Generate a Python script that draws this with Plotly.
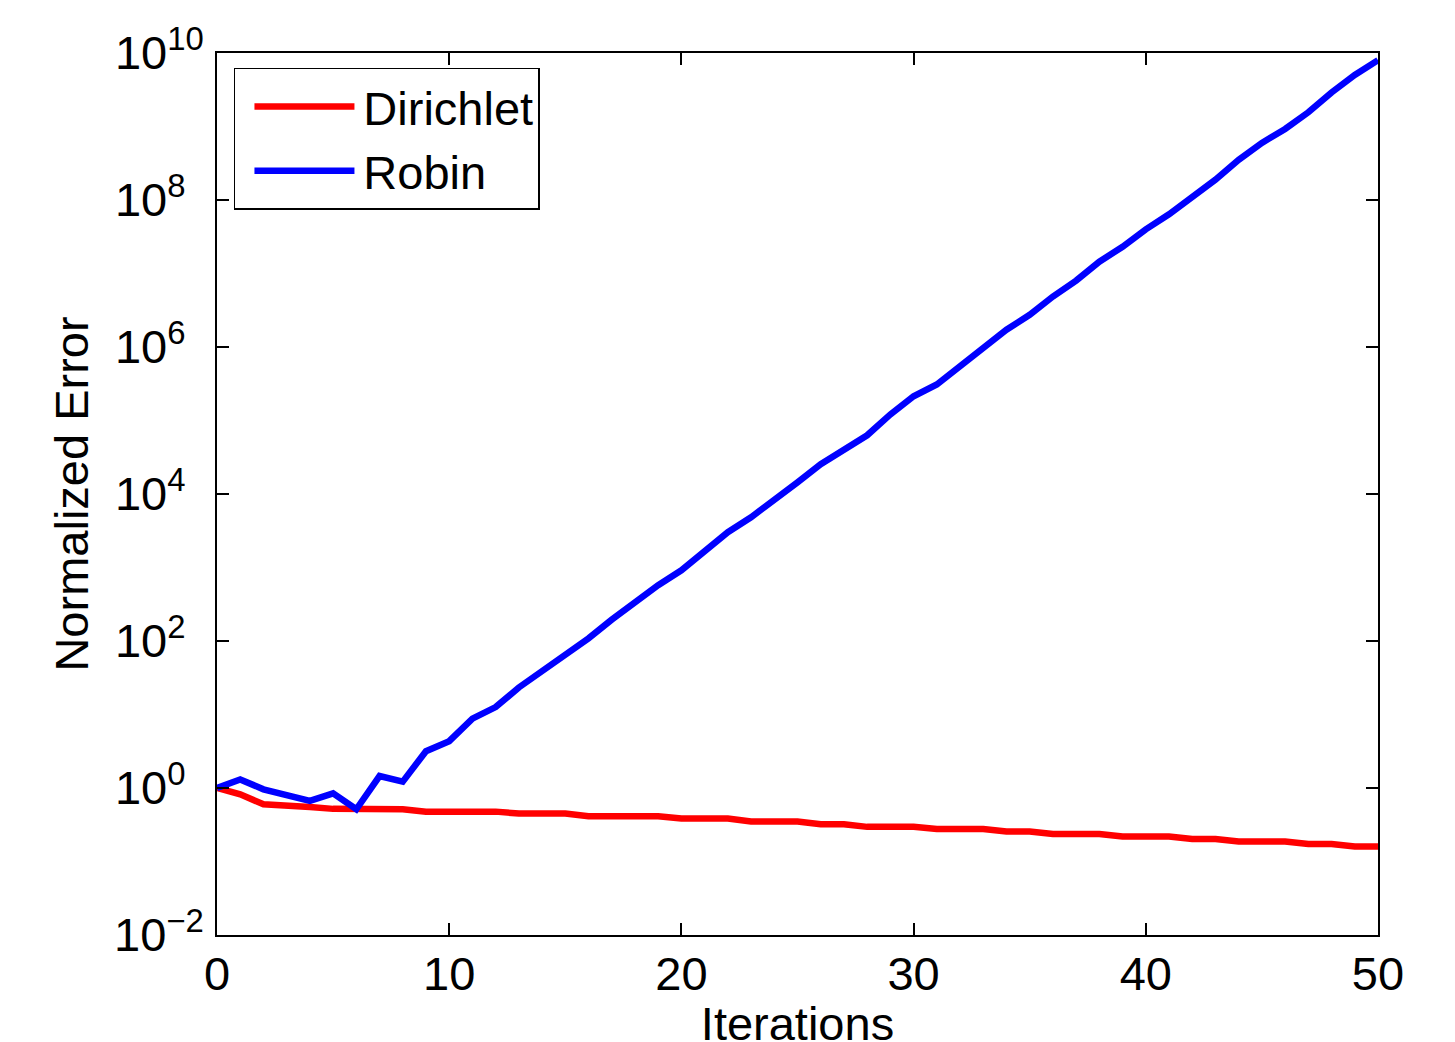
import plotly.graph_objects as go

iterations = list(range(0, 51))

dirichlet = [1.0, 0.82, 0.60, 0.56, 0.55, 0.52, 0.515, 0.515, 0.515,
             0.477, 0.477, 0.477, 0.477, 0.449, 0.449, 0.449,
             0.414, 0.414, 0.414, 0.414, 0.384, 0.384, 0.384,
             0.35, 0.35, 0.35, 0.322, 0.322, 0.296, 0.296, 0.296,
             0.276, 0.276, 0.276, 0.256, 0.256, 0.236, 0.236, 0.236,
             0.219, 0.219, 0.219, 0.202, 0.202, 0.1875, 0.1875, 0.1875,
             0.1727, 0.1727, 0.1603, 0.1603]

robin_log10 = [0.0, 0.117, -0.018, -0.108, -0.176, -0.072, -0.289, 0.163, 0.086,
               0.501, 0.637, 0.944, 1.101, 1.368, 1.585, 1.819, 2.036, 2.29,
               2.523, 2.759, 2.962, 3.21, 3.481, 3.684, 3.91, 4.158, 4.406,
               4.609, 4.799, 5.083, 5.33, 5.49, 5.73, 5.987, 6.235, 6.438,
               6.687, 6.903, 7.161, 7.364, 7.60, 7.806, 8.032, 8.276, 8.547,
               8.777, 8.967, 9.193, 9.463, 9.702, 9.901]
robin = [10 ** v for v in robin_log10]

x_ticks = [0, 10, 20, 30, 40, 50]
y_exponents = [-2, 0, 2, 4, 6, 8, 10]
y_tickvals = [10 ** e for e in y_exponents]


def exp_label(e):
    s = str(e).replace("-", "\u2212")
    if len(s) == 1:
        s = s + "\u2007"  # figure space keeps the "10" parts aligned
    return "10<sup>%s</sup>" % s


y_ticktext = [exp_label(e) for e in y_exponents]

font_family = "Liberation Sans, Arial, Helvetica, sans-serif"
FS = 47

fig = go.Figure()
fig.add_trace(go.Scatter(x=iterations, y=dirichlet, mode="lines", name="\u200aDirichlet",
                         line=dict(color="#ff0000", width=6.5)))
fig.add_trace(go.Scatter(x=iterations, y=robin, mode="lines", name="\u200aRobin",
                         line=dict(color="#0000ff", width=6.5)))

axis_common = dict(showline=True, linecolor="black", linewidth=1.5, mirror="allticks",
                   ticks="inside", ticklen=12, tickwidth=1.5, tickcolor="black",
                   showgrid=False, zeroline=False,
                   tickfont=dict(family=font_family, size=FS, color="black"))

fig.update_layout(
    width=1455, height=1042,
    margin=dict(l=209, r=85, t=41, b=115),
    paper_bgcolor="white", plot_bgcolor="white",
    font=dict(family=font_family, size=FS, color="black"),
    xaxis=dict(range=[0, 50], tickvals=x_ticks, ticklabelstandoff=-3,
               title=dict(text="Iterations", font=dict(size=FS), standoff=0),
               **axis_common),
    yaxis=dict(type="log", range=[-2, 10], tickvals=y_tickvals, ticktext=y_ticktext,
               ticklabelstandoff=2,
               title=dict(text="Normalized Error", font=dict(size=FS), standoff=11),
               **axis_common),
    legend=dict(x=0.0146, y=0.983, xanchor="left", yanchor="top",
                bgcolor="white", bordercolor="black", borderwidth=1.5,
                font=dict(family=font_family, size=FS, color="black"),
                itemwidth=100, tracegroupgap=0, indentation=14),
    showlegend=True,
)

fig.write_html("out.html")
